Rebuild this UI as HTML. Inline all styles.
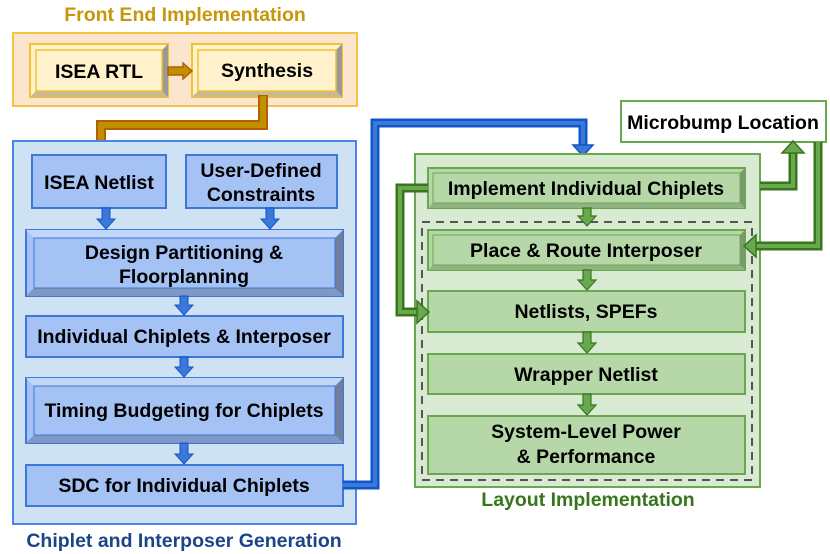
<!DOCTYPE html>
<html><head><meta charset="utf-8"><style>
html,body{margin:0;padding:0;background:#fff;}
svg{display:block;font-family:"Liberation Sans",Arial,sans-serif;font-weight:bold;}
</style></head><body>
<svg width="830" height="554" viewBox="0 0 830 554" xmlns="http://www.w3.org/2000/svg">
<!-- Front End -->
<text x="185" y="21" text-anchor="middle" font-size="19.5" fill="#c8960a">Front End Implementation</text>
<rect x="13" y="33" width="344" height="73" fill="#fce5cd" stroke="#f6c342" stroke-width="2"/>
<g>
<rect x="30" y="44" width="138" height="53" fill="#fff2cc" stroke="#f1c232" stroke-width="2"/>
<polygon points="168,44 168,97 162,91 162,50" fill="#999"/>
<polygon points="30,97 168,97 162,91 36,91" fill="#c9b98c"/>
<rect x="36" y="50" width="126" height="41" fill="#fff2cc" stroke="#f1c232" stroke-width="1.5"/>
<text x="99" y="78" text-anchor="middle" font-size="19.5" fill="#000">ISEA RTL</text>
</g>
<g>
<rect x="192" y="44" width="150" height="53" fill="#fff2cc" stroke="#f1c232" stroke-width="2"/>
<polygon points="342,44 342,97 336,91 336,50" fill="#999"/>
<polygon points="192,97 342,97 336,91 198,91" fill="#c9b98c"/>
<rect x="198" y="50" width="138" height="41" fill="#fff2cc" stroke="#f1c232" stroke-width="1.5"/>
<text x="267" y="77" text-anchor="middle" font-size="19.5" fill="#000">Synthesis</text>
</g>
<polygon points="168,67 183,67 183,63 192,71 183,79 183,75 168,75" fill="#bf9000" stroke="#b45f06" stroke-width="1.5"/>
<polyline points="263,95 263,125 101,125 101,146" fill="none" stroke="#b45f06" stroke-width="10"/>
<polyline points="263,96 263,125 101,125 101,146" fill="none" stroke="#bf9000" stroke-width="6"/>
<polygon points="91,145 111,145 101,156" fill="#bf9000" stroke="#b45f06" stroke-width="1.5"/>

<!-- Blue container -->
<rect x="13" y="141" width="343" height="383" fill="#cfe2f3" stroke="#4a86e8" stroke-width="2"/>
<text x="184" y="547" text-anchor="middle" font-size="19.5" fill="#1c4587">Chiplet and Interposer Generation</text>
<rect x="32" y="155" width="134" height="53" fill="#a4c2f4" stroke="#3c78d8" stroke-width="2"/>
<text x="99" y="189" text-anchor="middle" font-size="19.5">ISEA Netlist</text>
<rect x="186" y="155" width="151" height="53" fill="#a4c2f4" stroke="#3c78d8" stroke-width="2"/>
<text x="261" y="177" text-anchor="middle" font-size="19.5">User-Defined</text>
<text x="261" y="201" text-anchor="middle" font-size="19.5">Constraints</text>
<rect x="26" y="230" width="317" height="66" fill="#a4c2f4" stroke="#3c78d8" stroke-width="2"/>
<polygon points="343,230 343,296 335,288 335,238" fill="#6d7f9c"/>
<polygon points="26,296 343,296 335,288 34,288" fill="#7f98c4"/>
<polygon points="26,230 343,230 335,238 34,238" fill="#c2d6f7"/>
<rect x="34" y="238" width="301" height="50" fill="#a4c2f4" stroke="#3c78d8" stroke-width="1"/>
<text x="184" y="259" text-anchor="middle" font-size="19.5">Design Partitioning &amp;</text>
<text x="184" y="283" text-anchor="middle" font-size="19.5">Floorplanning</text>
<rect x="26" y="316" width="317" height="41" fill="#a4c2f4" stroke="#3c78d8" stroke-width="2"/>
<text x="184" y="343" text-anchor="middle" font-size="19.5">Individual Chiplets &amp; Interposer</text>
<rect x="26" y="378" width="317" height="65" fill="#a4c2f4" stroke="#3c78d8" stroke-width="2"/>
<polygon points="343,378 343,443 335,435 335,386" fill="#6d7f9c"/>
<polygon points="26,443 343,443 335,435 34,435" fill="#7f98c4"/>
<polygon points="26,378 343,378 335,386 34,386" fill="#c2d6f7"/>
<rect x="34" y="386" width="301" height="49" fill="#a4c2f4" stroke="#3c78d8" stroke-width="1"/>
<text x="184" y="417" text-anchor="middle" font-size="19.5">Timing Budgeting for Chiplets</text>
<rect x="26" y="465" width="317" height="41" fill="#a4c2f4" stroke="#3c78d8" stroke-width="2"/>
<text x="184" y="492" text-anchor="middle" font-size="19.5">SDC for Individual Chiplets</text>
<g fill="#3c78d8" stroke="#1155cc" stroke-width="1">
<polygon points="102,208 110,208 110,219 115,219 106,229 97,219 102,219"/>
<polygon points="266,208 274,208 274,219 279,219 270,229 261,219 266,219"/>
<polygon points="180,296 188,296 188,305 193,305 184,315 175,305 180,305"/>
<polygon points="180,357 188,357 188,367 193,367 184,377 175,367 180,367"/>
<polygon points="180,443 188,443 188,454 193,454 184,464 175,454 180,454"/>
</g>
<polyline points="343,485 375,485 375,123 583,123 583,146" fill="none" stroke="#1155cc" stroke-width="9"/>
<polyline points="343,485 375,485 375,123 583,123 583,146" fill="none" stroke="#3c78d8" stroke-width="4"/>
<polygon points="573,145 593,145 583,156" fill="#3c78d8" stroke="#1155cc" stroke-width="1.5"/>

<!-- Green container -->
<rect x="415" y="154" width="345" height="333" fill="#d9ead3" stroke="#6aa84f" stroke-width="2"/>
<text x="588" y="506" text-anchor="middle" font-size="19.5" fill="#38761d">Layout Implementation</text>
<rect x="422" y="222" width="330" height="258" fill="none" stroke="#555" stroke-width="2" stroke-dasharray="8,6"/>
<rect x="428" y="168" width="317" height="40" fill="#b6d7a8" stroke="#6aa84f" stroke-width="2"/>
<polygon points="745,168 745,208 740,203 740,173" fill="#7a9a6e"/>
<polygon points="428,208 745,208 740,203 433,203" fill="#8fb381"/>
<rect x="433" y="173" width="307" height="30" fill="#b6d7a8" stroke="#6aa84f" stroke-width="1"/>
<text x="586" y="195" text-anchor="middle" font-size="19.5">Implement Individual Chiplets</text>
<rect x="428" y="230" width="317" height="40" fill="#b6d7a8" stroke="#6aa84f" stroke-width="2"/>
<polygon points="745,230 745,270 740,265 740,235" fill="#7a9a6e"/>
<polygon points="428,270 745,270 740,265 433,265" fill="#8fb381"/>
<rect x="433" y="235" width="307" height="30" fill="#b6d7a8" stroke="#6aa84f" stroke-width="1"/>
<text x="586" y="257" text-anchor="middle" font-size="19.5">Place &amp; Route Interposer</text>
<rect x="428" y="291" width="317" height="41" fill="#b6d7a8" stroke="#6aa84f" stroke-width="2"/>
<text x="586" y="318" text-anchor="middle" font-size="19.5">Netlists, SPEFs</text>
<rect x="428" y="354" width="317" height="40" fill="#b6d7a8" stroke="#6aa84f" stroke-width="2"/>
<text x="586" y="381" text-anchor="middle" font-size="19.5">Wrapper Netlist</text>
<rect x="428" y="416" width="317" height="58" fill="#b6d7a8" stroke="#6aa84f" stroke-width="2"/>
<text x="586" y="438" text-anchor="middle" font-size="19.5">System-Level Power</text>
<text x="586" y="463" text-anchor="middle" font-size="19.5">&amp; Performance</text>
<g fill="#6aa84f" stroke="#38761d" stroke-width="1.2">
<polygon points="583,208 591,208 591,216 596,216 587,226 578,216 583,216"/>
<polygon points="583,270 591,270 591,280 596,280 587,290 578,280 583,280"/>
<polygon points="583,332 591,332 591,343 596,343 587,353 578,343 583,343"/>
<polygon points="583,394 591,394 591,405 596,405 587,415 578,405 583,405"/>
</g>
<rect x="621" y="101" width="205" height="41" fill="#fff" stroke="#6aa84f" stroke-width="2"/>
<text x="723" y="129" text-anchor="middle" font-size="19.5">Microbump Location</text>
<g fill="none">
<polyline points="428,188 400,188 400,312 418,312" stroke="#38761d" stroke-width="9"/>
<polyline points="428,188 400,188 400,312 418,312" stroke="#6aa84f" stroke-width="4"/>
<polyline points="760,186 793,186 793,152" stroke="#38761d" stroke-width="9"/>
<polyline points="760,186 793,186 793,152" stroke="#6aa84f" stroke-width="4"/>
<polyline points="818,142 818,246 755,246" stroke="#38761d" stroke-width="9"/>
<polyline points="818,142 818,246 755,246" stroke="#6aa84f" stroke-width="4"/>
</g>
<g fill="#6aa84f" stroke="#38761d" stroke-width="1.5">
<polygon points="417,301 417,323 429,312"/>
<polygon points="782,153 804,153 793,141"/>
<polygon points="756,235 756,257 744,246"/>
</g>
</svg>
</body></html>
